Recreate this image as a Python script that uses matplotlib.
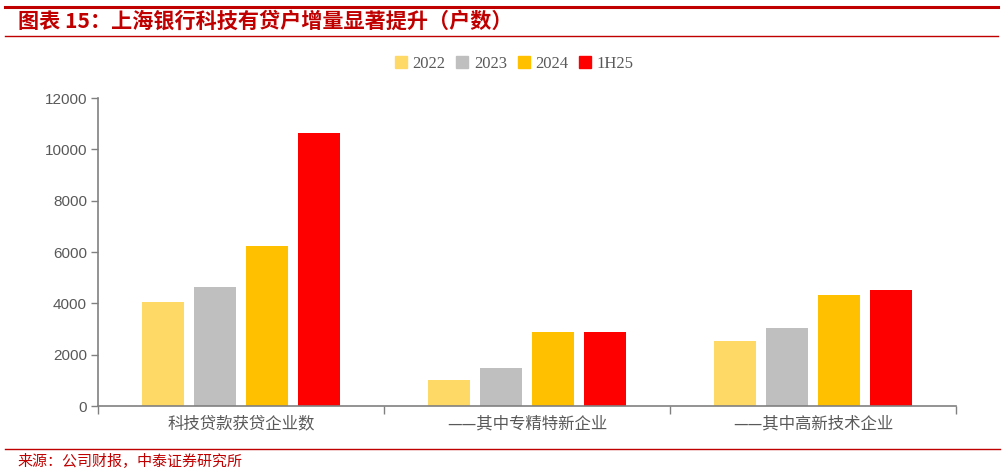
import numpy as np
import matplotlib
matplotlib.use("Agg")
import matplotlib.pyplot as plt
from matplotlib.lines import Line2D

plt.rcParams["font.family"] = ["Noto Sans CJK SC", "DejaVu Sans"]

categories = ["科技贷款获贷企业数", "——其中专精特新企业", "——其中高新技术企业"]
series_names = ["2022", "2023", "2024", "1H25"]
v2022 = [4050, 1000, 2520]
v2023 = [4630, 1500, 3020]
v2024 = [6250, 2900, 4320]
v1h25 = [10650, 2900, 4510]
yticks = [0, 2000, 4000, 6000, 8000, 10000, 12000]

COLORS = ["#FFD966", "#BFBFBF", "#FFC000", "#FF0000"]
RED = "#C00000"; AXIS = "#808080"; TXT = "#595959"

fig = plt.figure(figsize=(10.03, 4.72), dpi=100)
W, H = 1003, 472
ax = fig.add_axes([98 / W, 1 - 406 / H, (956 - 98) / W, (406 - 98) / H])

x = np.arange(len(categories))
step = 0.182; bw = 0.144
for i, vals in enumerate([v2022, v2023, v2024, v1h25]):
    ax.bar(x + (i - 1.5) * step, vals, width=bw, color=COLORS[i], zorder=2)

ax.set_xlim(-0.5, len(categories) - 0.5)
ax.set_ylim(0, 12000)
ax.set_yticks(yticks)
ax.set_yticklabels([str(t) for t in yticks], family=["Liberation Sans"], fontsize=11, color=TXT)
ax.set_xticks(np.arange(len(categories) + 1) - 0.5)
ax.set_xticklabels([])
ax.set_xticks(x, minor=True)
ax.set_xticklabels(categories, minor=True, fontsize=11.8, color=TXT)
ax.tick_params(axis="x", which="major", length=6, color=AXIS, width=1)
ax.tick_params(axis="x", which="minor", length=0, pad=7)
ax.tick_params(axis="y", length=5, color=AXIS, width=1, pad=3)
for s in ["top", "right"]:
    ax.spines[s].set_visible(False)
for s in ["left", "bottom"]:
    ax.spines[s].set_color(AXIS)
    ax.spines[s].set_linewidth(1.2)

handles = [Line2D([0], [0], marker="s", ls="", ms=9, mfc=c, mec=c, label=n)
           for c, n in zip(COLORS, series_names)]
fig.legend(handles=handles, loc="center", bbox_to_anchor=(514 / W, 1 - 64 / H), ncol=4,
           frameon=False, handlelength=0.8, handletextpad=0.3, columnspacing=0.6,
           prop={"family": "Liberation Serif", "size": 12}, labelcolor=TXT)

# header / footer decoration
fig.add_artist(Line2D([5 / W, 998 / W], [1 - 7 / H, 1 - 7 / H], color=RED, lw=2.2))
fig.add_artist(Line2D([5 / W, 998 / W], [1 - 36 / H, 1 - 36 / H], color=RED, lw=1.0))
fig.add_artist(Line2D([5 / W, 1000 / W], [1 - 449 / H, 1 - 449 / H], color=RED, lw=1.0))
fig.text(18 / W, 1 - 21 / H, "图表 15：上海银行科技有贷户增量显著提升（户数）", color=RED,
         fontsize=15.2, fontweight="bold", va="center", ha="left")
fig.text(17 / W, 1 - 461 / H, "来源：公司财报，中泰证券研究所", color=RED,
         fontsize=10.8, va="center", ha="left")

fig.savefig("out.png", dpi=100)
